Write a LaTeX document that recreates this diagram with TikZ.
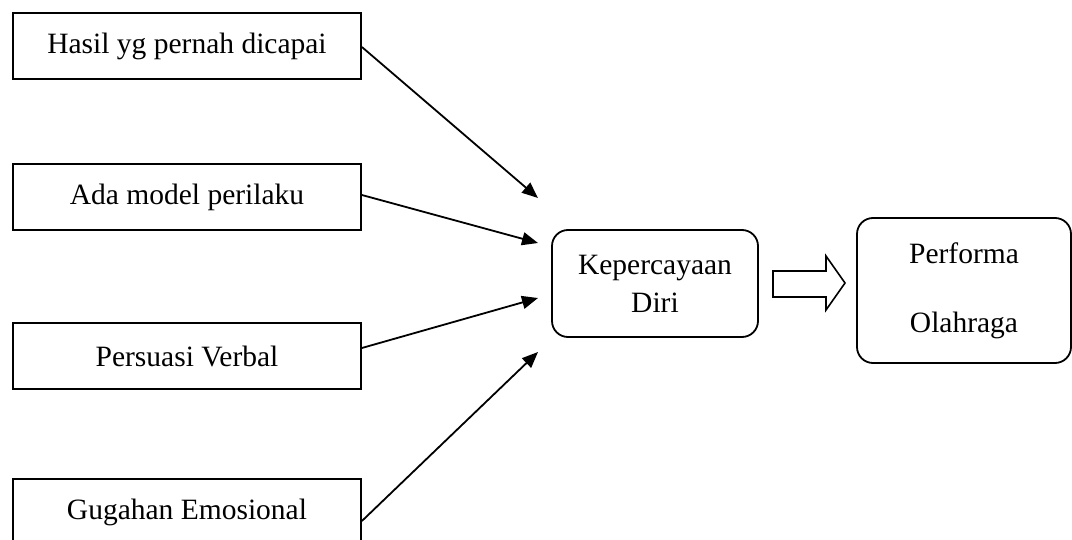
\documentclass[tikz,border=0pt]{standalone}
\usepackage{fontspec}
\setmainfont{Liberation Serif}
\usetikzlibrary{arrows.meta}
\begin{document}
\begin{tikzpicture}[x=1pt,y=-1pt,
  srcbox/.style={draw, line width=1.8pt, rectangle, minimum width=348pt, minimum height=66pt, inner sep=0pt, font=\fontsize{29.5}{34}\selectfont},
  rbox/.style={draw, line width=1.8pt, rectangle, rounded corners=16pt, inner sep=0pt, align=center},
  conn/.style={line width=1.8pt, -{Triangle[length=16pt,width=13pt]}}
]
\useasboundingbox (0,0) rectangle (1072,540);
\clip (0,0) rectangle (1072,540);
\fill[white] (0,0) rectangle (1072,540);

\node[srcbox] (b1) at (187,46) {Hasil yg pernah dicapai};
\node[srcbox] (b2) at (187,197) {Ada model perilaku};
\node[srcbox] (b3) at (187,356) {Persuasi Verbal};
\node[srcbox] (b4) at (187,512) {Gugahan Emosional};

\node[rbox, minimum width=206pt, minimum height=107pt, font=\fontsize{29.5}{38}\selectfont] (kd) at (655,283.5) {Kepercayaan\\Diri};
\node[rbox, minimum width=214pt, minimum height=145pt, font=\fontsize{29.5}{69}\selectfont] (po) at (964,290.5) {Performa\\Olahraga};

\coordinate (t1) at (538,198);
\coordinate (t2) at (538,243);
\coordinate (t3) at (538,298);
\coordinate (t4) at (538,352);

\draw[conn] ([yshift=-1pt]b1.east) -- (t1);
\draw[conn] ([yshift=2pt]b2.east) -- (t2);
\draw[conn] ([yshift=8pt]b3.east) -- (t3);
\draw[conn] ([yshift=-9pt]b4.east) -- (t4);

% hollow block arrow between the two rounded boxes
\draw[line width=1.6pt, line join=miter] (773,271) -- (826,271) -- (826,256) -- (845,283) -- (826,310) -- (826,297) -- (773,297) -- cycle;
\end{tikzpicture}
\end{document}
